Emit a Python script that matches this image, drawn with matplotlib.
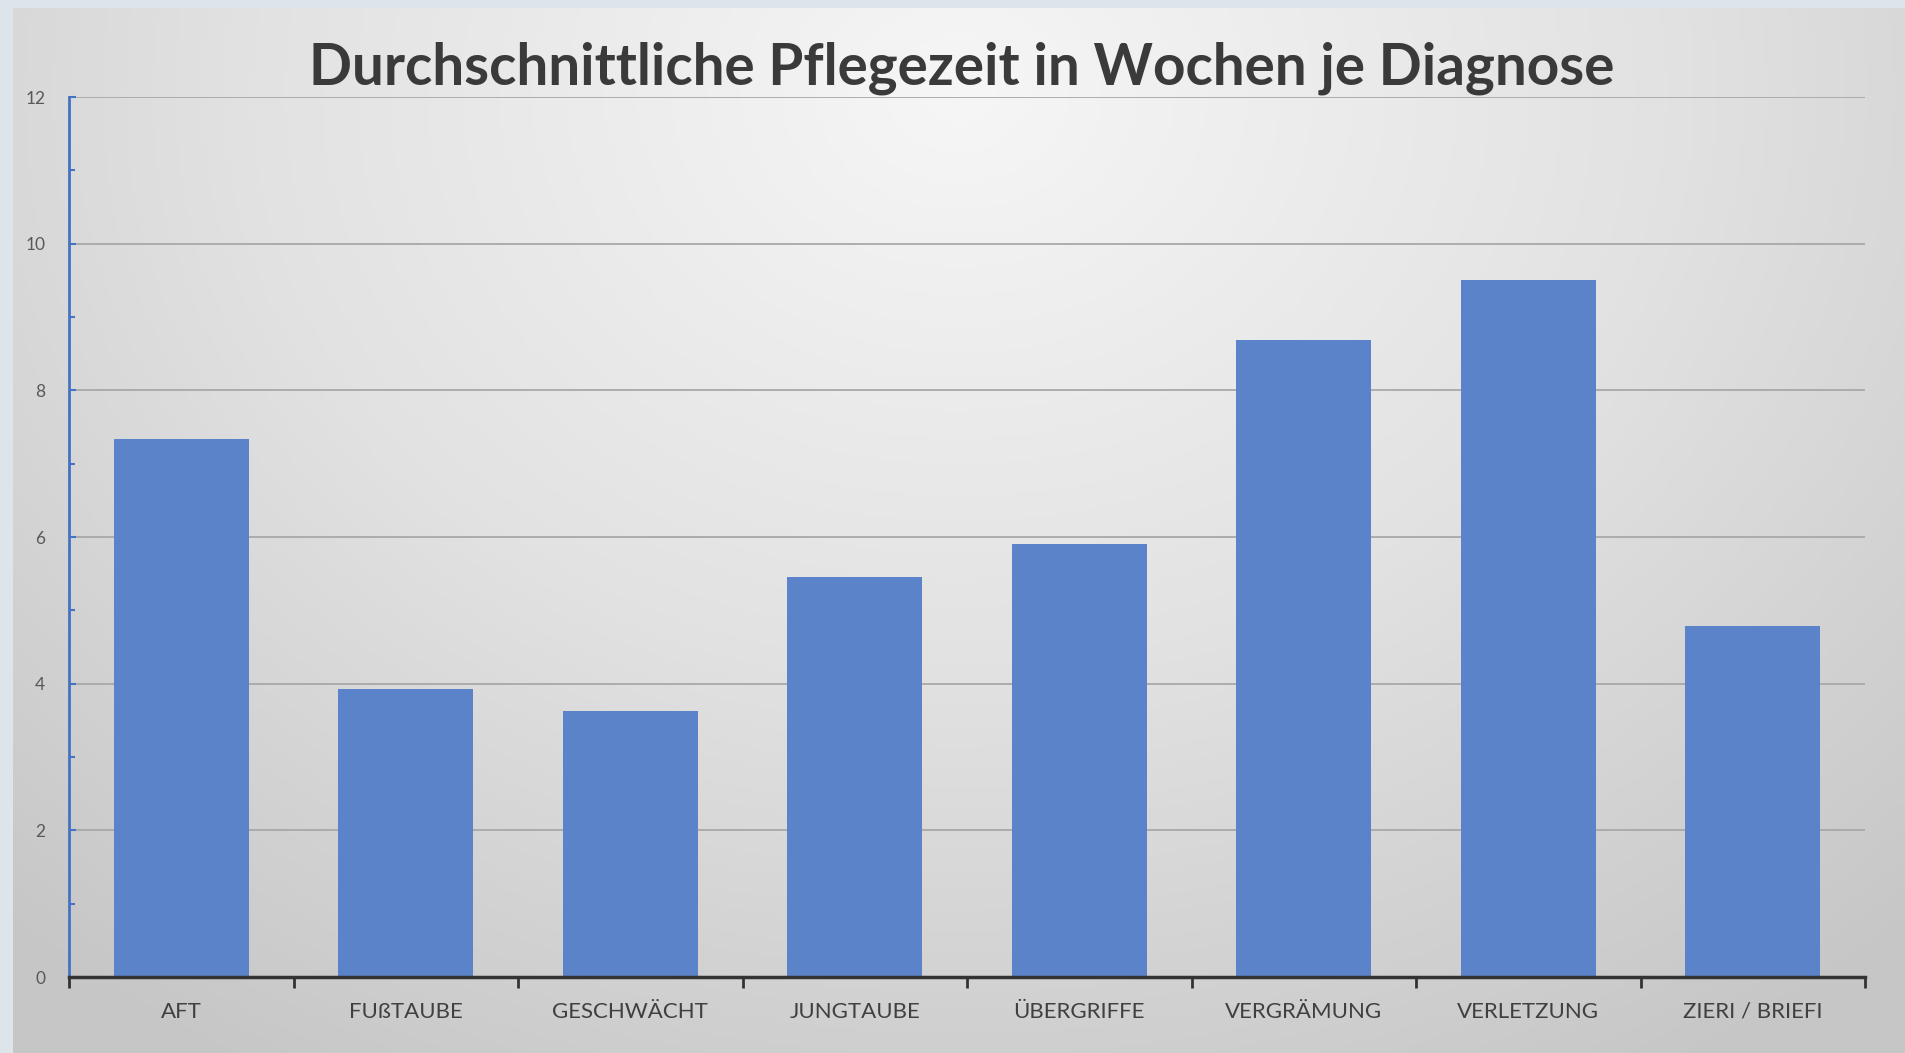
import numpy as np
import matplotlib
matplotlib.use("Agg")
import matplotlib.pyplot as plt
from matplotlib.colors import LinearSegmentedColormap

# data
kategorien = ["AFT", "FUßTAUBE", "GESCHWÄCHT", "JUNGTAUBE", "ÜBERGRIFFE",
              "VERGRÄMUNG", "VERLETZUNG", "ZIERI / BRIEFI"]
wochen = [7.33, 3.93, 3.63, 5.45, 5.90, 8.69, 9.51, 4.79]
y_ticks = [0, 2, 4, 6, 8, 10, 12]
titel = "Durchschnittliche Pflegezeit in Wochen je Diagnose"

plt.rcParams['font.family'] = ['Lato', 'DejaVu Sans']

W, H = 1905, 1053
fig = plt.figure(figsize=(W / 100, H / 100), dpi=100)
fig.patch.set_facecolor('#dde4ea')

# panel with a soft radial gradient
bg = fig.add_axes([13 / W, 0, 1 - 13 / W, 1 - 8 / H])
bg.set_axis_off()
gx, gy = np.meshgrid(np.linspace(0, 1, 400), np.linspace(0, 1, 240))
r = np.sqrt(((gx - 0.5) / 0.75) ** 2 + ((gy - 0.08) / 1.1) ** 2)
r = np.clip(r, 0, 1)
cmap = LinearSegmentedColormap.from_list("bg", ["#f6f6f6", "#e2e2e2", "#c6c6c6"])
bg.imshow(r, cmap=cmap, aspect='auto', extent=[0, 1, 1, 0], vmin=0, vmax=1)
bg.set_xlim(0, 1)
bg.set_ylim(1, 0)

ax = fig.add_axes([69 / W, 1 - 977 / H, (1865 - 69) / W, (977 - 97) / H])
ax.set_facecolor('none')

x = np.arange(len(kategorien))
ax.bar(x, wochen, width=0.6, color='#5b83c9', zorder=3)

ax.set_xlim(-0.5, len(kategorien) - 0.5)
ax.set_ylim(0, 12)

# grid
ax.set_yticks(y_ticks)
ax.set_yticks(np.arange(1, 12, 2), minor=True)
ax.yaxis.grid(True, color='#a8a8a8', linewidth=1.3, zorder=0)
ax.tick_params(axis='y', which='both', direction='in', length=5, width=1.5,
               color='#4472c4', labelsize=12.5, labelcolor='#595959', pad=17)
ax.tick_params(axis='y', which='minor', length=4)

# category boundaries as ticks, labels at centres
ax.set_xticks(np.arange(-0.5, len(kategorien), 1))
ax.set_xticklabels([])
ax.set_xticks(x, minor=True)
ax.set_xticklabels(kategorien, minor=True)
ax.tick_params(axis='x', which='major', direction='out', length=8, width=2,
               color='#333333')
ax.tick_params(axis='x', which='minor', length=0, labelsize=16,
               labelcolor='#404040', pad=18)

for s in ['top', 'right']:
    ax.spines[s].set_visible(False)
ax.spines['left'].set_color('#4472c4')
ax.spines['left'].set_linewidth(2)
ax.spines['bottom'].set_color('#333333')
ax.spines['bottom'].set_linewidth(2.5)
ax.spines['bottom'].set_zorder(4)

fig.text(0.5048, 0.935, titel, ha='center', va='center', fontsize=40.8,
         fontweight='bold', color='#3a3a3a')

fig.savefig("out.png", dpi=100)
